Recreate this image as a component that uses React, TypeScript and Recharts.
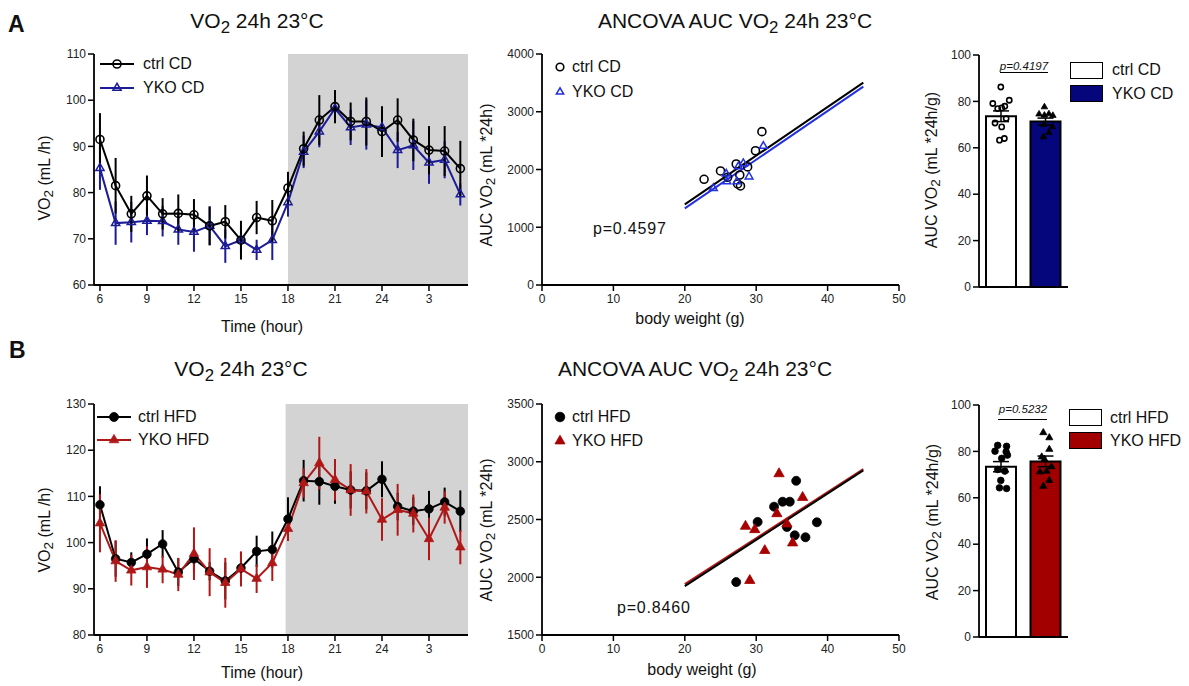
import React from 'react';
import {
  ComposedChart, Line, XAxis, YAxis, ErrorBar, ReferenceArea,
  ScatterChart, Scatter, ReferenceLine, Bar, Cell,
} from 'recharts';

const FONT = '"Liberation Sans", Arial, Helvetica, sans-serif';

// ---------- Time course data ----------
const hourLabels = ['6','7','8','9','10','11','12','13','14','15','16','17','18','19','20','21','22','23','24','1','2','3','4','5'];
const hourTicks = [0, 3, 6, 9, 12, 15, 18, 21];
const hourDomain = [-0.38, 23.49];
const darkStartCD = 12;
const darkStartHFD = 11.85;

const ctrlCD = [91.5,81.5,75.4,79.3,75.4,75.5,75.2,72.8,73.7,69.7,74.6,73.9,81.0,89.5,95.7,98.6,95.4,95.4,93.2,95.7,91.4,89.2,89.0,85.2];
const ctrlCDsem = [5.7,6.0,3.9,4.4,3.4,4.1,3.4,4.2,3.6,4.2,3.6,4.5,3.5,3.7,5.4,3.6,4.1,5.2,5.5,4.7,4.6,5.2,5.4,6.0];
const ykoCD = [85.3,73.4,73.6,73.9,73.8,72.0,71.5,72.8,68.4,69.7,67.6,69.7,77.9,88.8,93.2,98.2,94.1,94.7,94.1,89.2,90.2,86.5,87.1,79.6];
const ykoCDsem = [4.7,4.7,4.4,3.1,3.3,3.3,4.3,4.2,3.6,3.0,2.2,4.3,3.1,3.5,3.4,3.0,3.8,5.4,4.0,3.9,5.3,4.6,4.0,2.4];

const ctrlHFD = [108.2,96.5,95.7,97.5,99.7,93.6,96.5,93.8,91.7,94.5,98.1,98.5,105.1,113.4,113.2,112.2,111.4,111.2,113.7,107.8,106.8,107.3,108.8,106.8];
const ctrlHFDsem = [4.0,3.9,2.2,3.4,3.0,3.0,3.0,2.0,4.0,3.4,3.4,3.9,4.7,4.5,5.0,3.8,4.0,4.0,3.9,3.0,3.0,3.9,3.1,4.5];
const ykoHFD = [104.2,96.0,94.0,94.7,94.2,93.1,97.6,93.6,91.3,94.3,92.2,95.6,103.0,112.9,117.2,113.6,111.4,111.1,105.0,107.1,106.3,100.8,107.6,99.0];
const ykoHFDsem = [6.3,4.5,3.3,4.5,3.0,3.6,5.7,5.2,5.4,3.8,3.1,3.9,2.6,3.2,5.7,4.5,5.6,4.8,4.6,5.6,4.1,4.6,3.5,3.7];

// ---------- ANCOVA scatter data ----------
const ctrlCDbw = [22.7,25.0,26.0,27.2,27.7,27.4,27.8,28.8,29.9,30.8];
const ctrlCDauc = [1830,1975,1865,2095,1905,1750,1715,2045,2325,2655];
const ykoCDbw = [24.0,25.8,25.9,27.3,27.5,28.2,29.0,31.0];
const ykoCDauc = [1675,1925,1790,1790,2050,2105,1875,2405];
const fitX = [20, 45];
const ctrlCDfit = [1397, 3504];
const ykoCDfit = [1328, 3434];

const ctrlHFDbw = [27.2,30.2,32.5,33.7,34.7,34.3,35.6,35.4,36.9,38.5];
const ctrlHFDauc = [1958,2479,2611,2654,2654,2435,2835,2363,2346,2476];
const ykoHFDbw = [28.5,29.8,29.1,31.2,32.9,33.2,34.3,35.1,36.5];
const ykoHFDauc = [2441,2412,1972,2231,2550,2896,2461,2297,2691];
const ctrlHFDfit = [1923, 2925];
const ykoHFDfit = [1940, 2936];

// ---------- Bar data ----------
const cdGroups = ['ctrl CD', 'YKO CD'];
const cdMeans = [73.6, 71.3];
const cdSem = [2.3, 1.5];
const cdCtrlDotPos = [0.49,0.31,0.42,0.51,0.58,0.68,0.61,0.36,0.51,0.46,0.57];
const cdCtrlDots = [86.2,79.1,76.9,77.2,77.9,80.5,72.6,70.7,69.0,63.3,64.0];
const cdYkoDotPos = [1.47,1.35,1.47,1.57,1.66,1.45,1.65,1.57,1.45];
const cdYkoDots = [77.6,74.5,74.0,74.6,73.9,70.0,69.0,66.6,64.7];

const hfdGroups = ['ctrl HFD', 'YKO HFD'];
const hfdMeans = [73.4, 75.7];
const hfdSem = [2.2, 2.3];
const hfdCtrlDotPos = [0.42,0.62,0.36,0.61,0.64,0.51,0.42,0.58,0.49,0.46,0.62];
const hfdCtrlDots = [82.6,82.2,80.1,79.8,78.4,77.0,72.2,71.5,67.5,64.3,64.0];
const hfdYkoDotPos = [1.445,1.58,1.58,1.41,1.47,1.63,1.37,1.52,1.58,1.445];
const hfdYkoDots = [88.1,85.9,80.9,77.6,76.6,73.4,71.2,71.5,67.5,65.0];

// ---------- colours ----------
const BLACK = '#000';
const BLUE_LINE = '#1c1c96';
const BLUE_SC = '#2230e0';
const NAVY = '#06067c';
const RED_LINE = '#b01818';
const RED_SC = '#a80000';
const RED_BAR = '#a20000';
const SHADE = '#d3d3d3';

const tickStyle = { fontSize: 12, fill: '#222', fontFamily: FONT };
const axisLineStyle = { stroke: '#000', strokeWidth: 1.8 };
const tickLineStyle = { stroke: '#000', strokeWidth: 1.5 };

type MK = 'oc' | 'ot' | 'fc' | 'ft';
function marker(kind: MK, cx: number, cy: number, color: string, s: number, key?: any) {
  if (cx == null || cy == null || isNaN(cx) || isNaN(cy)) return <g key={key} />;
  if (kind === 'oc') return <circle key={key} cx={cx} cy={cy} r={s} fill="none" stroke={color} strokeWidth={1.6} />;
  if (kind === 'fc') return <circle key={key} cx={cx} cy={cy} r={s} fill={color} stroke={color} strokeWidth={0.8} />;
  const a = s * 2.1;
  const h = a * 0.866;
  const pts = `${cx},${cy - (2 * h) / 3} ${cx - a / 2},${cy + h / 3} ${cx + a / 2},${cy + h / 3}`;
  if (kind === 'ot') return <polygon key={key} points={pts} fill="none" stroke={color} strokeWidth={1.5} strokeLinejoin="miter" />;
  return <polygon key={key} points={pts} fill={color} stroke={color} strokeWidth={0.8} />;
}

// ---------- text helpers ----------
function T({ x, y, size = 16, anchor = 'middle', children, style }: any) {
  const tx = anchor === 'middle' ? '-50%' : anchor === 'start' ? '0' : '-100%';
  return (
    <div style={{ position: 'absolute', left: x, top: y, transform: `translate(${tx}, -50%)`, fontSize: size, lineHeight: 1, whiteSpace: 'nowrap', color: '#111', ...style }}>
      {children}
    </div>
  );
}
function RT({ x, y, size = 16, children }: any) {
  return (
    <div style={{ position: 'absolute', left: x, top: y, transform: 'translate(-50%, -50%) rotate(-90deg)', fontSize: size, lineHeight: 1, whiteSpace: 'nowrap', color: '#111' }}>
      {children}
    </div>
  );
}
const Sub2 = ({ scale = 0.8, drop = 0.3 }: any) => (
  <span style={{ fontSize: `${scale}em`, position: 'relative', top: `${drop}em` }}>2</span>
);

// ---------- legends ----------
function LineLegend({ x, textX, rows }: any) {
  return (
    <>
      {rows.map((r: any, i: number) => (
        <React.Fragment key={i}>
          <svg style={{ position: 'absolute', left: x, top: r.y - 8 }} width={34} height={16}>
            <line x1={0} x2={34} y1={8} y2={8} stroke={r.color} strokeWidth={2} />
            {marker(r.kind, 17, 8, r.color, r.s)}
          </svg>
          <T x={textX} y={r.y} anchor="start" size={16}>{r.label}</T>
        </React.Fragment>
      ))}
    </>
  );
}
function PointLegend({ x, textX, rows }: any) {
  return (
    <>
      {rows.map((r: any, i: number) => (
        <React.Fragment key={i}>
          <svg style={{ position: 'absolute', left: x - 8, top: r.y - 8 }} width={16} height={16}>
            {marker(r.kind, 8, 8, r.color, r.s)}
          </svg>
          <T x={textX} y={r.y} anchor="start" size={16}>{r.label}</T>
        </React.Fragment>
      ))}
    </>
  );
}
function BoxLegend({ x, textX, rows }: any) {
  return (
    <>
      {rows.map((r: any, i: number) => (
        <React.Fragment key={i}>
          <div style={{ position: 'absolute', left: x, top: r.y - 8.5, width: 33, height: 17, boxSizing: 'border-box', border: '1.6px solid #000', background: r.fill }} />
          <T x={textX} y={r.y} anchor="start" size={16}>{r.label}</T>
        </React.Fragment>
      ))}
    </>
  );
}

// ---------- charts ----------
function TimeChart({ left, top, yDomain, yTicks, darkStart, c, cs, y, ys, cKind, yKind, cColor, yColor, ctrlOnTop }: any) {
  const rows = hourLabels.map((_, i) => ({ i, c: c[i], cs: cs[i], y: y[i], ys: ys[i] }));
  const ctrlLine = (
    <Line key="c" dataKey="c" stroke={cColor} strokeWidth={2} isAnimationActive={false}
      dot={(p: any) => marker(cKind, p.cx, p.cy, cColor, cKind === 'oc' ? 4 : 4.3, `c${p.index}`)}
      activeDot={false}>
      <ErrorBar dataKey="cs" width={0} stroke={cColor} strokeWidth={2} direction="y" />
    </Line>
  );
  const ykoLine = (
    <Line key="y" dataKey="y" stroke={yColor} strokeWidth={2} isAnimationActive={false}
      dot={(p: any) => marker(yKind, p.cx, p.cy, yColor, yKind === 'ot' ? 3.9 : 4.5, `y${p.index}`)}
      activeDot={false}>
      <ErrorBar dataKey="ys" width={0} stroke={yColor} strokeWidth={2} direction="y" />
    </Line>
  );
  return (
    <div style={{ position: 'absolute', left, top }}>
      <ComposedChart width={480} height={320} data={rows} margin={{ top: 54, right: 12, bottom: 5, left: 54 }}>
        <ReferenceArea x1={darkStart} x2={hourDomain[1]} y1={yDomain[0]} y2={yDomain[1]} fill={SHADE} fillOpacity={1} stroke="none" ifOverflow="hidden" />
        <XAxis dataKey="i" type="number" domain={hourDomain} ticks={hourTicks} allowDataOverflow
          tickFormatter={(v: number) => hourLabels[v]} tick={tickStyle} tickLine={tickLineStyle}
          axisLine={axisLineStyle} tickSize={6} tickMargin={3} height={30} interval={0} />
        <YAxis type="number" domain={yDomain} ticks={yTicks} allowDataOverflow tick={tickStyle}
          tickLine={tickLineStyle} axisLine={axisLineStyle} tickSize={6} tickMargin={2} width={40} interval={0} />
        {ctrlOnTop ? [ykoLine, ctrlLine] : [ctrlLine, ykoLine]}
      </ComposedChart>
    </div>
  );
}

function AncovaChart({ left, top, yDomain, yTicks, cx, cy, yx, yy, cFit, yFit, cKind, yKind, cColor, yColor, cFitColor, yFitColor, ctrlFitOnTop }: any) {
  const cData = cx.map((v: number, i: number) => ({ x: v, y: cy[i] }));
  const yData = yx.map((v: number, i: number) => ({ x: v, y: yy[i] }));
  const cLine = <ReferenceLine key="cf" segment={[{ x: fitX[0], y: cFit[0] }, { x: fitX[1], y: cFit[1] }]} stroke={cFitColor} strokeWidth={2} ifOverflow="visible" />;
  const yLine = <ReferenceLine key="yf" segment={[{ x: fitX[0], y: yFit[0] }, { x: fitX[1], y: yFit[1] }]} stroke={yFitColor} strokeWidth={2} ifOverflow="visible" />;
  return (
    <div style={{ position: 'absolute', left, top }}>
      <ScatterChart width={420} height={320} margin={{ top: 54, right: 11, bottom: 5, left: 12 }}>
        <XAxis dataKey="x" type="number" domain={[0, 50]} ticks={[0, 10, 20, 30, 40, 50]} allowDataOverflow
          tick={tickStyle} tickLine={tickLineStyle} axisLine={axisLineStyle} tickSize={6} tickMargin={3} height={30} interval={0} />
        <YAxis dataKey="y" type="number" domain={yDomain} ticks={yTicks} allowDataOverflow
          tick={tickStyle} tickLine={tickLineStyle} axisLine={axisLineStyle} tickSize={6} tickMargin={2} width={40} interval={0} />
        {ctrlFitOnTop ? [yLine, cLine] : [cLine, yLine]}
        <Scatter data={cData} isAnimationActive={false}
          shape={(p: any) => marker(cKind, p.cx, p.cy, cColor, cKind === 'oc' ? 4 : 4.5)} />
        <Scatter data={yData} isAnimationActive={false}
          shape={(p: any) => marker(yKind, p.cx, p.cy, yColor, yKind === 'ot' ? 3.7 : 4.9)} />
      </ScatterChart>
    </div>
  );
}

function BarDotChart({ left, top, groups, means, sems, fills, cPos, cVals, yPos, yVals, cKind, cS, yKind, yS }: any) {
  const rows = groups.map((g: string, i: number) => ({ g, m: means[i], s: sems[i] }));
  const cDots = cPos.map((x: number, i: number) => ({ x, y: cVals[i] }));
  const yDots = yPos.map((x: number, i: number) => ({ x, y: yVals[i] }));
  return (
    <div style={{ position: 'absolute', left, top }}>
      <ComposedChart width={269} height={320} data={rows} margin={{ top: 55, right: 121, bottom: 3, left: 19 }}>
        <XAxis xAxisId="cat" dataKey="g" type="category" tick={false} tickLine={false} axisLine={axisLineStyle} height={30} />
        <XAxis xAxisId="num" dataKey="x" type="number" domain={[0, 2]} allowDataOverflow hide />
        <YAxis type="number" domain={[0, 100]} ticks={[0, 20, 40, 60, 80, 100]} allowDataOverflow tick={tickStyle}
          tickLine={tickLineStyle} axisLine={axisLineStyle} tickSize={6} tickMargin={2} width={40} interval={0} />
        <Bar xAxisId="cat" dataKey="m" barSize={30} stroke="#000" strokeWidth={2} isAnimationActive={false}>
          {rows.map((_: any, i: number) => <Cell key={i} fill={fills[i]} />)}
          <ErrorBar dataKey="s" width={8} stroke="#000" strokeWidth={1.5} direction="y" />
        </Bar>
        <Scatter xAxisId="num" data={cDots} dataKey="y" isAnimationActive={false}
          shape={(p: any) => marker(cKind, p.cx, p.cy, '#000', cS)} />
        <Scatter xAxisId="num" data={yDots} dataKey="y" isAnimationActive={false}
          shape={(p: any) => marker(yKind, p.cx, p.cy, '#000', yS)} />
      </ComposedChart>
    </div>
  );
}

export default function App() {
  return (
    <div style={{ position: 'absolute', left: 0, top: 0, width: 1189, height: 686, background: '#fff', fontFamily: FONT, overflow: 'hidden' }}>
      {/* Panel letters */}
      <T x={8} y={24} anchor="start" size={23} style={{ fontWeight: 'bold' }}>A</T>
      <T x={9} y={350} anchor="start" size={23} style={{ fontWeight: 'bold' }}>B</T>

      {/* Titles */}
      <T x={257} y={21} size={21}>VO<Sub2 drop={0.28} /> 24h 23°C</T>
      <T x={735} y={21} size={21}>ANCOVA AUC VO<Sub2 drop={0.28} /> 24h 23°C</T>
      <T x={241} y={369} size={21}>VO<Sub2 drop={0.28} /> 24h 23°C</T>
      <T x={695} y={369} size={21}>ANCOVA AUC VO<Sub2 drop={0.28} /> 24h 23°C</T>

      {/* Row A */}
      <TimeChart left={0} top={0} yDomain={[60, 110]} yTicks={[60, 70, 80, 90, 100, 110]} darkStart={darkStartCD}
        c={ctrlCD} cs={ctrlCDsem} y={ykoCD} ys={ykoCDsem} cKind="oc" yKind="ot" cColor={BLACK} yColor={BLUE_LINE} ctrlOnTop />
      <AncovaChart left={490} top={0} yDomain={[0, 4000]} yTicks={[0, 1000, 2000, 3000, 4000]}
        cx={ctrlCDbw} cy={ctrlCDauc} yx={ykoCDbw} yy={ykoCDauc} cFit={ctrlCDfit} yFit={ykoCDfit}
        cKind="oc" yKind="ot" cColor={BLACK} yColor={BLUE_SC} cFitColor={BLACK} yFitColor={BLUE_SC} ctrlFitOnTop={false} />
      <BarDotChart left={920} top={0} groups={cdGroups} means={cdMeans} sems={cdSem} fills={['#fff', NAVY]}
        cPos={cdCtrlDotPos} cVals={cdCtrlDots} yPos={cdYkoDotPos} yVals={cdYkoDots} cKind="oc" cS={2.6} yKind="ft" yS={3.1} />

      {/* Row B */}
      <TimeChart left={0} top={350} yDomain={[80, 130]} yTicks={[80, 90, 100, 110, 120, 130]} darkStart={darkStartHFD}
        c={ctrlHFD} cs={ctrlHFDsem} y={ykoHFD} ys={ykoHFDsem} cKind="fc" yKind="ft" cColor={BLACK} yColor={RED_LINE} ctrlOnTop={false} />
      <AncovaChart left={490} top={350} yDomain={[1500, 3500]} yTicks={[1500, 2000, 2500, 3000, 3500]}
        cx={ctrlHFDbw} cy={ctrlHFDauc} yx={ykoHFDbw} yy={ykoHFDauc} cFit={ctrlHFDfit} yFit={ykoHFDfit}
        cKind="fc" yKind="ft" cColor={BLACK} yColor={RED_SC} cFitColor={BLACK} yFitColor={RED_LINE} ctrlFitOnTop />
      <BarDotChart left={920} top={350} groups={hfdGroups} means={hfdMeans} sems={hfdSem} fills={['#fff', RED_BAR]}
        cPos={hfdCtrlDotPos} cVals={hfdCtrlDots} yPos={hfdYkoDotPos} yVals={hfdYkoDots} cKind="fc" cS={3.3} yKind="ft" yS={3.4} />

      {/* Axis labels */}
      <T x={262} y={327} size={16}>Time (hour)</T>
      <T x={262} y={673} size={16}>Time (hour)</T>
      <RT x={45} y={178} size={16}>VO<Sub2 scale={0.85} drop={0.25} /> (mL /h)</RT>
      <RT x={45} y={530} size={16}>VO<Sub2 scale={0.85} drop={0.25} /> (mL /h)</RT>
      <T x={690} y={319} size={16}>body weight (g)</T>
      <T x={702} y={670} size={16}>body weight (g)</T>
      <RT x={487} y={175} size={16}>AUC VO<Sub2 scale={0.85} drop={0.25} /> (mL *24h)</RT>
      <RT x={487} y={530} size={16}>AUC VO<Sub2 scale={0.85} drop={0.25} /> (mL *24h)</RT>
      <RT x={932} y={170} size={16}>AUC VO<Sub2 scale={0.85} drop={0.25} /> (mL *24h/g)</RT>
      <RT x={933} y={522} size={16}>AUC VO<Sub2 scale={0.85} drop={0.25} /> (mL *24h/g)</RT>

      {/* p values */}
      <T x={593} y={229} anchor="start" size={16} style={{ letterSpacing: 0.8 }}>p=0.4597</T>
      <T x={617} y={608} anchor="start" size={16} style={{ letterSpacing: 0.8 }}>p=0.8460</T>
      <T x={1024} y={67} size={11.5} style={{ fontStyle: 'italic' }}>p=0.4197</T>
      <div style={{ position: 'absolute', left: 1000, top: 72, width: 48, height: 0, borderTop: '1.2px solid #000' }} />
      <T x={1023} y={410} size={11.5} style={{ fontStyle: 'italic' }}>p=0.5232</T>
      <div style={{ position: 'absolute', left: 998, top: 418.5, width: 49, height: 0, borderTop: '1.2px solid #000' }} />

      {/* Legends */}
      <LineLegend x={100} textX={143} rows={[
        { y: 64, color: BLACK, kind: 'oc', s: 4, label: 'ctrl CD' },
        { y: 88, color: BLUE_LINE, kind: 'ot', s: 3.9, label: 'YKO CD' },
      ]} />
      <LineLegend x={97} textX={138} rows={[
        { y: 417, color: BLACK, kind: 'fc', s: 4.5, label: 'ctrl HFD' },
        { y: 440, color: RED_LINE, kind: 'ft', s: 4.6, label: 'YKO HFD' },
      ]} />
      <PointLegend x={560} textX={572} rows={[
        { y: 67, color: BLACK, kind: 'oc', s: 3.8, label: 'ctrl CD' },
        { y: 92, color: BLUE_SC, kind: 'ot', s: 3.5, label: 'YKO CD' },
      ]} />
      <PointLegend x={560} textX={572} rows={[
        { y: 417, color: BLACK, kind: 'fc', s: 4.8, label: 'ctrl HFD' },
        { y: 441, color: RED_SC, kind: 'ft', s: 4.8, label: 'YKO HFD' },
      ]} />
      <BoxLegend x={1070} textX={1112} rows={[
        { y: 70, fill: '#fff', label: 'ctrl CD' },
        { y: 93.5, fill: NAVY, label: 'YKO CD' },
      ]} />
      <BoxLegend x={1069} textX={1110} rows={[
        { y: 417.5, fill: '#fff', label: 'ctrl HFD' },
        { y: 440.5, fill: RED_BAR, label: 'YKO HFD' },
      ]} />
    </div>
  );
}
